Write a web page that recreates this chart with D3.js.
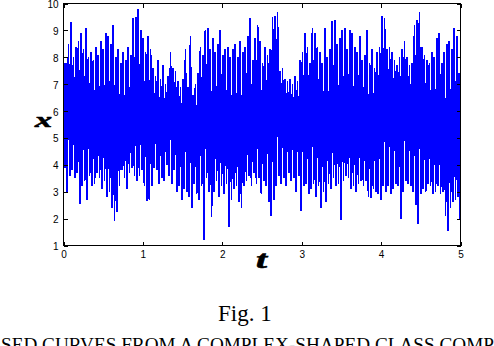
<!DOCTYPE html>
<html><head><meta charset="utf-8">
<script src="https://cdn.jsdelivr.net/npm/d3@7"></script>
<style>body{margin:0;background:#fff}svg{display:block}</style>
</head><body><svg id="c" width="494" height="346"></svg>
<script>
// Local maxima of x(t) (one per ~0.031 of t)
const peaks = [
 8.4, 7.8, 8.5, 9.3, 8.0, 8.4, 8.6, 8.9, 8.3, 9.1,
 8.0, 8.2, 7.9, 8.4, 8.1, 8.6, 8.3, 8.9, 8.8, 8.5,
 9.2, 8.0, 8.3, 7.8, 8.2, 7.9, 8.4, 8.1, 9.45, 9.5,
 9.8, 9.0, 8.7, 8.2, 8.8, 8.3, 7.6, 7.3, 7.9, 7.2,
 7.7, 7.0, 7.3, 8.2, 7.6, 7.5, 7.1, 6.9, 7.2, 8.3,
 6.9, 8.8, 6.6, 7.0, 7.4, 8.4, 8.1, 9.0, 9.1, 8.3,
 8.7, 8.2, 8.5, 9.0, 8.1, 8.3, 8.4, 8.0, 8.3, 8.5,
 8.0, 8.6, 8.2, 8.4, 8.8, 9.45, 7.9, 8.7, 9.2, 8.6,
 7.8, 8.4, 8.1, 8.3, 9.5, 9.55, 9.7, 7.5, 7.6, 7.2,
 7.1, 7.2, 7.0, 7.3, 7.1, 7.9, 8.2, 8.9, 8.4, 7.8,
 9.1, 8.9, 8.4, 8.2, 7.8, 9.1, 8.0, 8.3, 9.35, 9.4,
 8.5, 8.7, 9.0, 9.1, 8.3, 9.0, 8.9, 8.4, 8.2, 8.8,
 7.9, 8.1, 9.0, 7.8, 8.3, 7.6, 8.2, 8.4, 9.55, 9.45,
 8.3, 8.4, 8.2, 7.9, 7.7, 8.0, 8.3, 8.6, 8.0, 7.7,
 7.8, 9.2, 9.4, 9.7, 8.4, 8.1, 7.9, 7.8, 8.2, 8.0,
 8.7, 8.9, 7.8, 8.2, 8.5, 8.6, 8.3, 9.1, 8.8, 7.4
];
// Local minima of x(t)
const troughs = [
 3.9, 3.0, 3.6, 3.8, 3.5, 3.7, 2.55, 3.2, 3.4, 2.7,
 3.6, 3.2, 3.3, 3.7, 3.5, 3.1, 3.4, 2.8, 3.0, 2.4,
 1.9, 2.25, 3.2, 3.8, 3.5, 3.1, 3.7, 3.9, 3.6, 3.4,
 3.6, 3.8, 3.2, 2.65, 2.7, 3.2, 3.9, 3.8, 3.3, 3.5,
 3.4, 4.0, 3.6, 3.3, 3.8, 3.0, 3.2, 2.7, 3.1, 3.0,
 2.8, 2.4, 3.3, 2.9, 2.7, 3.2, 1.2, 3.5, 3.0, 2.06,
 3.0, 3.4, 2.8, 3.2, 2.9, 3.3, 1.7, 2.7, 3.1, 3.2,
 2.6, 2.4, 3.2, 3.4, 3.6, 3.2, 3.7, 3.3, 3.5, 2.9,
 3.4, 3.2, 2.6, 2.1, 2.7, 3.2, 3.6, 3.3, 3.5, 3.2,
 3.7, 3.4, 3.5, 3.0, 3.6, 2.3, 3.2, 3.3, 2.9, 3.1,
 3.3, 2.8, 3.2, 2.4, 3.0, 2.6, 3.3, 3.1, 3.5, 3.2,
 3.3, 1.95, 3.4, 3.6, 3.5, 3.1, 3.2, 3.0, 3.3, 3.4,
 3.2, 3.4, 2.8, 2.75, 3.1, 3.0, 2.9, 2.7, 3.2, 3.0,
 3.2, 2.9, 3.1, 3.3, 3.2, 2.0, 3.0, 3.4, 3.3, 3.2,
 3.0, 2.5, 1.8, 2.9, 3.1, 3.0, 3.3, 3.2, 2.9, 3.0,
 3.2, 2.9, 3.0, 2.1, 1.55, 2.4, 2.6, 2.7, 2.8, 1.3
];
const xTicks = [0, 1, 2, 3, 4, 5];
const yTicks = [1, 2, 3, 4, 5, 6, 7, 8, 9, 10];
const tRange = [0, 5];
const xRange = [1, 10];
const figLabel = "Fig. 1";
const captionText = "SED CURVES FROM A COMPLEX-SHAPED CLASS COMP";

// Build the series: alternate local maxima and minima in time order
const series = [];
peaks.forEach((p, i) => { series.push(p); series.push(troughs[i]); });
const n = series.length;
const data = series.map((v, k) => ({ t: tRange[0] + k * (tRange[1] - tRange[0]) / (n - 1), v }));

const svg = d3.select("#c");
const L = 63.5, R = 460.5, T = 3.5, B = 245.5;
const x = d3.scaleLinear().domain(tRange).range([L, R]);
const y = d3.scaleLinear().domain(xRange).range([B, T]);

svg.append("path")
  .datum(data)
  .attr("fill", "none")
  .attr("stroke", "#0000ff")
  .attr("stroke-width", 1.7)
  .attr("stroke-linejoin", "miter")
  .attr("shape-rendering", "crispEdges")
  .attr("d", d3.line().x(d => x(d.t)).y(d => y(d.v)));

const font = "'Liberation Sans', Arial, Helvetica, sans-serif";
function styleAxis(g) {
  g.select(".domain").remove();
  g.selectAll("line").attr("stroke", "#000").attr("shape-rendering", "crispEdges");
  g.selectAll("text").attr("fill", "#000").style("font-family", font).style("font-size", "10px");
}

svg.append("g").attr("transform", `translate(0,${B})`)
  .call(d3.axisBottom(x).tickValues(xTicks).tickSize(-4).tickPadding(5).tickFormat(d3.format("d")))
  .call(styleAxis);
svg.append("g").attr("transform", `translate(0,${T})`)
  .call(d3.axisTop(x).tickValues(xTicks).tickSize(-4).tickFormat(""))
  .call(styleAxis);
svg.append("g").attr("transform", `translate(${L},0)`)
  .call(d3.axisLeft(y).tickValues(yTicks).tickSize(-4).tickPadding(5).tickFormat(d3.format("d")))
  .call(styleAxis)
  .call(g => g.selectAll("text").attr("dy", "0.4em"));
svg.append("g").attr("transform", `translate(${R},0)`)
  .call(d3.axisRight(y).tickValues(yTicks).tickSize(-4).tickFormat(""))
  .call(styleAxis);

svg.append("rect")
  .attr("x", L).attr("y", T).attr("width", R - L).attr("height", B - T)
  .attr("fill", "none").attr("stroke", "#000").attr("stroke-width", 1)
  .attr("shape-rendering", "crispEdges");

const serif = "'Liberation Serif', 'Times New Roman', Times, serif";
svg.append("text").text("x")
  .attr("x", 35).attr("y", 126.5)
  .attr("textLength", 17).attr("lengthAdjust", "spacingAndGlyphs")
  .attr("stroke", "#000").attr("stroke-width", 0.6)
  .style("font-family", serif).style("font-weight", "bold").style("font-style", "italic")
  .style("font-size", "20px");
svg.append("text").text("t")
  .attr("x", 256).attr("y", 268)
  .attr("textLength", 11).attr("lengthAdjust", "spacingAndGlyphs")
  .attr("stroke", "#000").attr("stroke-width", 0.6)
  .style("font-family", serif).style("font-weight", "bold").style("font-style", "italic")
  .style("font-size", "25px");

svg.append("text").text(figLabel)
  .attr("x", 218).attr("y", 321)
  .style("font-family", serif).style("font-size", "23px");
svg.append("text").text(captionText)
  .attr("x", 1).attr("y", 351)
  .attr("textLength", 493).attr("lengthAdjust", "spacingAndGlyphs")
  .style("font-family", serif).style("font-size", "19px");
</script>
</body></html>
